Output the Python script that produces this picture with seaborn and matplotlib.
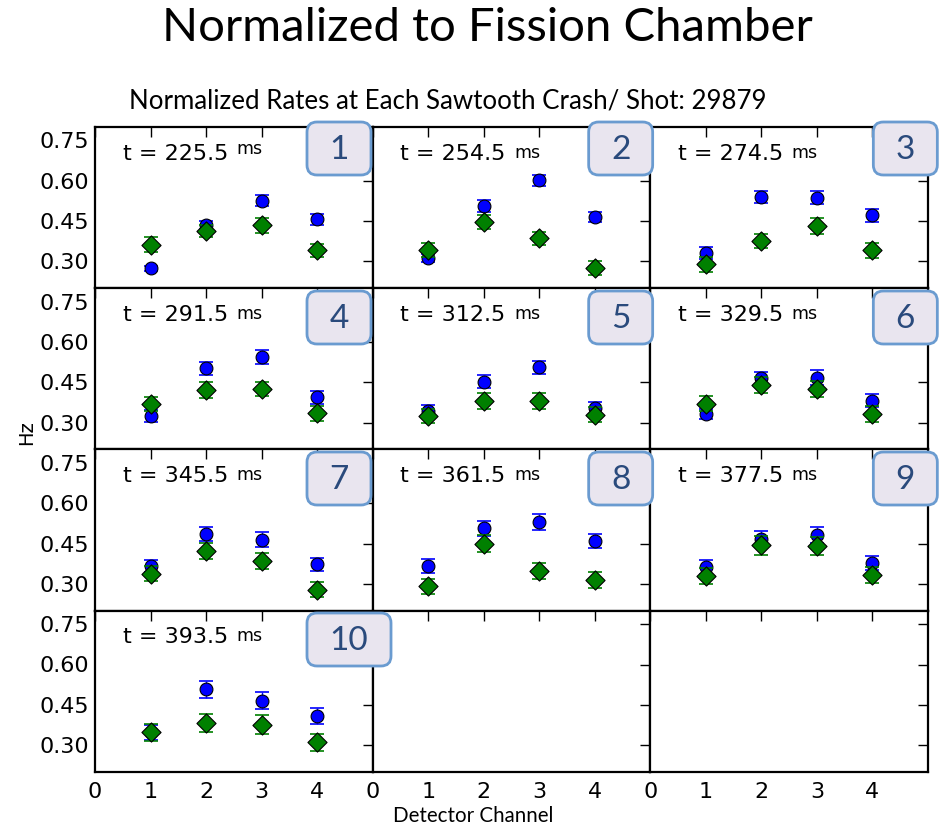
import matplotlib
matplotlib.use("Agg")
import matplotlib.pyplot as plt
from matplotlib.patches import FancyBboxPatch
from matplotlib.transforms import IdentityTransform
import seaborn as sns
import pandas as pd

# ---- data -------------------------------------------------------------
channels = [1, 2, 3, 4]
crash_times = [225.5, 254.5, 274.5, 291.5, 312.5, 329.5, 345.5, 361.5, 377.5, 393.5]

rates_circle = [
    [0.274, 0.434, 0.526, 0.456],
    [0.314, 0.506, 0.602, 0.465],
    [0.330, 0.540, 0.537, 0.471],
    [0.326, 0.502, 0.543, 0.395],
    [0.345, 0.452, 0.506, 0.355],
    [0.332, 0.465, 0.467, 0.382],
    [0.367, 0.486, 0.465, 0.373],
    [0.367, 0.507, 0.531, 0.459],
    [0.363, 0.467, 0.482, 0.378],
    [0.347, 0.507, 0.465, 0.407],
]
err_circle = [
    [0.010, 0.015, 0.020, 0.020],
    [0.015, 0.022, 0.020, 0.020],
    [0.022, 0.022, 0.024, 0.024],
    [0.022, 0.024, 0.026, 0.024],
    [0.020, 0.024, 0.025, 0.022],
    [0.020, 0.025, 0.027, 0.025],
    [0.023, 0.027, 0.027, 0.025],
    [0.025, 0.028, 0.030, 0.027],
    [0.025, 0.030, 0.030, 0.027],
    [0.027, 0.030, 0.032, 0.030],
]
rates_diamond = [
    [0.362, 0.413, 0.434, 0.341],
    [0.342, 0.446, 0.386, 0.275],
    [0.289, 0.376, 0.431, 0.342],
    [0.369, 0.421, 0.425, 0.335],
    [0.325, 0.379, 0.381, 0.329],
    [0.371, 0.440, 0.426, 0.331],
    [0.338, 0.423, 0.386, 0.279],
    [0.291, 0.449, 0.347, 0.316],
    [0.330, 0.444, 0.441, 0.333],
    [0.347, 0.382, 0.376, 0.310],
]
err_diamond = [
    [0.027, 0.022, 0.027, 0.025],
    [0.027, 0.025, 0.025, 0.025],
    [0.027, 0.027, 0.030, 0.028],
    [0.027, 0.030, 0.027, 0.028],
    [0.025, 0.030, 0.030, 0.028],
    [0.028, 0.030, 0.030, 0.030],
    [0.028, 0.030, 0.030, 0.028],
    [0.028, 0.032, 0.030, 0.030],
    [0.030, 0.035, 0.035, 0.030],
    [0.030, 0.035, 0.035, 0.030],
]
y_ticks = [0.30, 0.45, 0.60, 0.75]
x_ticks = [0, 1, 2, 3, 4]

# ---- style ------------------------------------------------------------
sns.set_theme(style="white")
plt.rcParams["font.family"] = ["DejaVu Sans"]
plt.rcParams.update({
    "text.color": "black", "axes.labelcolor": "black",
    "xtick.labelcolor": "black", "ytick.labelcolor": "black",
    "xtick.direction": "in", "ytick.direction": "in",
    "xtick.top": True, "ytick.right": True,
    "xtick.major.size": 7, "ytick.major.size": 7,
    "xtick.major.width": 1.0, "ytick.major.width": 1.0,
    "xtick.color": "black", "ytick.color": "black",
    "axes.edgecolor": "black", "axes.linewidth": 1.6,
})

W, H, DPI = 947, 830, 100
fig = plt.figure(figsize=(W / DPI, H / DPI), dpi=DPI)
AX_L, AX_R, AX_T, AX_B = 95, 928, 127, 772
axes = fig.subplots(4, 3, sharex=True, sharey=True,
                    gridspec_kw=dict(left=AX_L / W, right=AX_R / W,
                                     top=1 - AX_T / H, bottom=1 - AX_B / H,
                                     wspace=0, hspace=0))

BLUE = (0, 0, 1)
GREEN = (0, 0.5, 0)
LABEL_FONT = ["Lato", "DejaVu Sans"]

for i, ax in enumerate(axes.flat):
    ax.set_xlim(0, 5)
    ax.set_ylim(0.2, 0.8)
    ax.set_xticks(x_ticks)
    ax.set_yticks(y_ticks)
    ax.yaxis.set_major_formatter(matplotlib.ticker.FormatStrFormatter("%.2f"))
    ax.tick_params(labelsize=16, pad=4)
    ax.tick_params(axis="x", pad=7)
    if i >= len(crash_times):
        continue

    df = pd.DataFrame({"channel": channels,
                       "circle": rates_circle[i], "diamond": rates_diamond[i]})

    ax.errorbar(channels, rates_circle[i], yerr=err_circle[i], fmt="none",
                ecolor=BLUE, elinewidth=1, capsize=5, capthick=1.2, zorder=2)
    sns.scatterplot(data=df, x="channel", y="circle", ax=ax, marker="o",
                    s=85, color=BLUE, edgecolor="black", linewidth=0.8,
                    zorder=3, legend=False)
    ax.errorbar(channels, rates_diamond[i], yerr=err_diamond[i], fmt="none",
                ecolor=GREEN, elinewidth=1, capsize=5, capthick=1.2, zorder=4)
    sns.scatterplot(data=df, x="channel", y="diamond", ax=ax, marker="D",
                    s=95, color=GREEN, edgecolor="black", linewidth=0.8,
                    zorder=5, legend=False)

    t_txt = ax.annotate(f"t = {crash_times[i]}", xy=(0, 1), xycoords="axes fraction",
                        xytext=(20, -12), textcoords="offset points",
                        fontsize=16, ha="left", va="top")
    rise = 4 if i == 0 else 1.5
    ax.annotate("ms", xy=(1, 0), xycoords=t_txt, xytext=(6, rise),
                textcoords="offset points", fontsize=12.5, ha="left", va="bottom")

for ax in axes.flat:
    ax.set_xlabel("")
    ax.set_ylabel("")

# ---- numbered panel badges ---------------------------------------------
col_w = (AX_R - AX_L) / 3
badge_offset = [212, 216, 223]
badge_tops = [122, 291, 452, 613]
for i in range(len(crash_times)):
    r, c = divmod(i, 3)
    label = str(i + 1)
    bw = 64 if len(label) == 1 else 84
    bh = 53
    x0 = AX_L + c * col_w + badge_offset[c]
    y_top = badge_tops[r]
    patch = FancyBboxPatch((x0, H - y_top - bh), bw, bh,
                           boxstyle="round,pad=0,rounding_size=10",
                           transform=IdentityTransform(), facecolor="#e9e5ef",
                           edgecolor="#6a9bd0", linewidth=2, zorder=10)
    fig.patches.append(patch)
    fig.text((x0 + bw / 2) / W, 1 - (y_top + bh / 2 + 1) / H, label,
             ha="center", va="center", fontsize=24, color="#2a4a7c",
             family=LABEL_FONT, zorder=11)

# ---- titles and axis labels ---------------------------------------------
fig.text(487 / W, 1 - 28 / H, "Normalized to Fission Chamber", ha="center",
         va="center", fontsize=34, family=LABEL_FONT)
fig.text(448 / W, 1 - 101 / H, "Normalized Rates at Each Sawtooth Crash/ Shot: 29879",
         ha="center", va="center", fontsize=18.6, family=LABEL_FONT)
fig.text(27 / W, 1 - 433 / H, "Hz", rotation=90, ha="center", va="center",
         fontsize=14)
fig.text(473 / W, 1 - 816 / H, "Detector Channel", ha="center", va="center",
         fontsize=14.8, family=LABEL_FONT)

fig.savefig("out.png", dpi=DPI)
